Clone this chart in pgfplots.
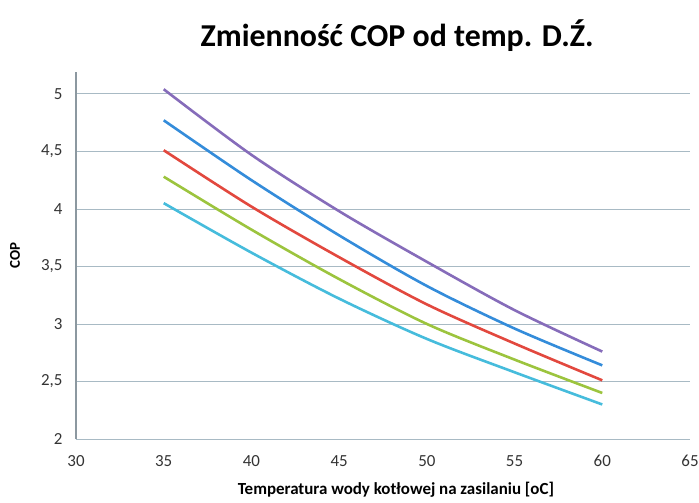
\documentclass[border=0pt]{standalone}
\usepackage{pgfplots}
\pgfplotsset{compat=1.18}
\usepackage{fontspec}
\setmainfont{Carlito}
\definecolor{cpurple}{RGB}{134,108,186}
\definecolor{cblue}{RGB}{52,140,218}
\definecolor{cred}{RGB}{226,72,62}
\definecolor{cgreen}{RGB}{156,196,62}
\definecolor{ccyan}{RGB}{70,188,220}
\definecolor{cgrid}{RGB}{168,186,196}
\definecolor{caxis}{RGB}{140,152,160}
\begin{document}
\begin{tikzpicture}
\useasboundingbox (-76bp,-64bp) rectangle (623bp,439bp);
\begin{axis}[
  at={(0,0)}, anchor=south west,
  scale only axis, width=614bp, height=367bp,
  xmin=30, xmax=65, ymin=2, ymax=5.19,
  xtick={30,35,...,65}, ytick={2,2.5,...,5},
  axis lines=left,
  x axis line style={cgrid, line width=0.8pt, -},
  y axis line style={caxis, line width=1.2pt, -},
  ymajorgrids, grid style={cgrid, line width=0.8pt},
  major tick length=0pt,
  /pgf/number format/assume math mode=true,
  /pgf/number format/use comma,
  yticklabel style={font=\fontsize{17}{17}\selectfont, color=black!80, xshift=-10bp},
  xticklabel style={font=\fontsize{17}{17}\selectfont, color=black!80, yshift=-13bp},
  xlabel={\textbf{Temperatura wody kotłowej na zasilaniu [oC]}},
  xlabel style={font=\fontsize{17}{17}\selectfont, at={(axis description cs:0.521,0)}, anchor=center, yshift=-51bp},
  ylabel={\textbf{COP}},
  ylabel style={font=\fontsize{15}{15}\selectfont, at={(axis description cs:-0.0993,0.5)}, anchor=center, rotate=0},
  title={\textbf{Zmienność COP od temp. D.Ź.}},
  title style={font=\fontsize{32}{32}\selectfont, at={(axis description cs:0.523,1)}, anchor=center, yshift=30bp},
  clip=false,
  every axis plot/.append style={line width=2.6bp, smooth, no markers},
]
\addplot[cpurple] coordinates {(35,5.04) (40,4.47) (45,3.98) (50,3.54) (55,3.12) (60,2.76)};
\addplot[cblue] coordinates {(35,4.77) (40,4.25) (45,3.77) (50,3.33) (55,2.96) (60,2.64)};
\addplot[cred] coordinates {(35,4.51) (40,4.02) (45,3.58) (50,3.17) (55,2.83) (60,2.51)};
\addplot[cgreen] coordinates {(35,4.28) (40,3.82) (45,3.39) (50,3.00) (55,2.69) (60,2.40)};
\addplot[ccyan] coordinates {(35,4.05) (40,3.62) (45,3.22) (50,2.87) (55,2.58) (60,2.30)};
\end{axis}
\end{tikzpicture}
\end{document}
